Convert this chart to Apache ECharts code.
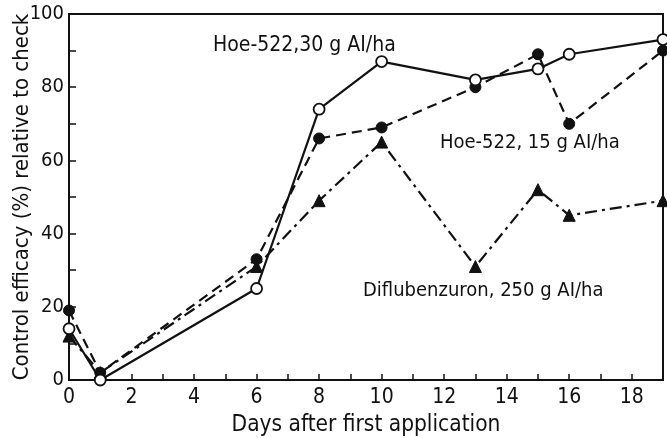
<!DOCTYPE html>
<html>
<head>
<meta charset="utf-8">
<script src="https://cdn.jsdelivr.net/npm/echarts@6/dist/echarts.min.js"></script>
<style>
  html, body { margin: 0; padding: 0; background: #fff; }
  #chart { width: 667px; height: 438px; }
</style>
</head>
<body>
<div id="chart"></div>
<script>
var days = [0, 1, 6, 8, 10, 13, 15, 16, 19];
var hoe30 = [14, 0, 25, 74, 87, 82, 85, 89, 93];
var hoe15 = [19, 2, 33, 66, 69, 80, 89, 70, 90];
var diflu = [12, 2, 31, 49, 65, 31, 52, 45, 49];

var FONT = '"DejaVu Sans Condensed", "Liberation Sans Narrow", sans-serif';

function pairs(ys) {
    return days.map(function (d, i) { return [d, ys[i]]; });
}

var chart = echarts.init(document.getElementById('chart'));
var option = {
    backgroundColor: '#fff',
    animation: false,
    grid: {
        left: 69,
        right: 4,
        top: 14,
        bottom: 58,
        outerBoundsMode: 'none',
        show: true,
        borderColor: '#111',
        borderWidth: 2
    },
    xAxis: {
        type: 'value',
        min: 0,
        max: 19,
        interval: 1,
        name: 'Days after first application',
        nameLocation: 'middle',
        nameGap: 34,
        nameMoveOverlap: false,
        nameTextStyle: { fontFamily: FONT, fontSize: 22.5, color: '#111' },
        axisLine: { lineStyle: { color: '#111', width: 2 } },
        axisTick: { inside: true, length: 6, lineStyle: { color: '#111', width: 1.5 } },
        axisLabel: {
            margin: 7,
            fontFamily: FONT,
            fontSize: 21,
            color: '#111',
            formatter: function (v) { return v % 2 === 0 ? String(v) : ''; }
        },
        splitLine: { show: false }
    },
    yAxis: {
        type: 'value',
        min: 0,
        max: 100,
        interval: 20,
        name: 'Control efficacy (%) relative to check',
        nameLocation: 'middle',
        nameGap: 36,
        nameMoveOverlap: false,
        nameTextStyle: { fontFamily: FONT, fontSize: 22, color: '#111' },
        axisLine: { show: true, lineStyle: { color: '#111', width: 2 } },
        axisTick: { inside: true, length: 7, lineStyle: { color: '#111', width: 1.5 } },
        minorTick: { show: true, splitNumber: 2, length: 7, lineStyle: { color: '#111', width: 1.5 } },
        axisLabel: { margin: 5, fontFamily: FONT, fontSize: 20, color: '#111' },
        splitLine: { show: false }
    },
    series: [{
        name: 'Hoe-522, 30 g AI/ha',
        type: 'line',
        data: pairs(hoe30),
        symbol: 'circle',
        symbolSize: 11,
        lineStyle: { color: '#111', width: 2.2, type: 'solid' },
        itemStyle: { color: '#fff', borderColor: '#111', borderWidth: 1.8 },
        z: 4
    }, {
        name: 'Hoe-522, 15 g AI/ha',
        type: 'line',
        data: pairs(hoe15),
        symbol: 'circle',
        symbolSize: 11,
        lineStyle: { color: '#111', width: 2.2, type: [10, 6] },
        itemStyle: { color: '#111', borderColor: '#111', borderWidth: 1 },
        z: 3
    }, {
        name: 'Diflubenzuron, 250 g AI/ha',
        type: 'line',
        data: pairs(diflu),
        symbol: 'triangle',
        symbolSize: 12,
        lineStyle: { color: '#111', width: 2.2, type: [12, 5, 3, 5] },
        itemStyle: { color: '#111', borderColor: '#111', borderWidth: 1 },
        z: 2
    }],
    graphic: [{
        type: 'text',
        left: 213, top: 35,
        style: { text: 'Hoe-522,30 g AI/ha', font: '21px ' + FONT, fill: '#111' }
    }, {
        type: 'text',
        left: 440, top: 133,
        style: { text: 'Hoe-522, 15 g AI/ha', font: '20px ' + FONT, fill: '#111' }
    }, {
        type: 'text',
        left: 363, top: 281,
        style: { text: 'Diflubenzuron, 250 g AI/ha', font: '20px ' + FONT, fill: '#111' }
    }]
};
chart.setOption(option);
</script>
</body>
</html>
